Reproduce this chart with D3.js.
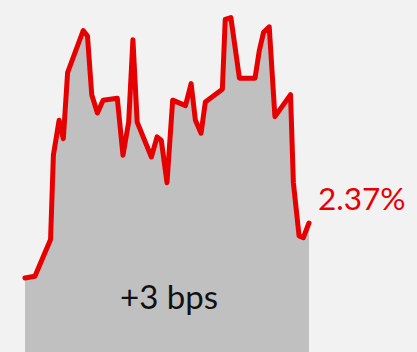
<!DOCTYPE html>
<html>
<head>
<meta charset="utf-8">
<script src="https://cdn.jsdelivr.net/npm/d3@7"></script>
<style>
  html, body { margin: 0; padding: 0; background: #f2f2f2; }
  svg { display: block; }
</style>
</head>
<body>
<svg id="chart" width="417" height="352"></svg>
<script>
// Trading-day index of each observation
const days = [0, 7, 18, 20, 24, 27, 30, 41, 44, 47, 51, 55, 65, 69, 73, 76, 79, 89, 93, 96,
              100, 104, 113, 117, 120, 124, 127, 139, 141, 145, 151, 162, 165, 168, 172, 176,
              187, 189, 193, 196, 200];
// Yield, in percent
const yields = [2.340, 2.341, 2.361, 2.407, 2.426, 2.416, 2.452, 2.475, 2.472, 2.440,
                2.430, 2.437, 2.438, 2.407, 2.425, 2.470, 2.425, 2.406, 2.417, 2.415,
                2.392, 2.437, 2.434, 2.446, 2.426, 2.419, 2.436, 2.443, 2.481, 2.482,
                2.449, 2.449, 2.464, 2.474, 2.477, 2.428, 2.440, 2.392, 2.363, 2.362,
                2.370];
const lastLabel = "2.37%";
const changeLabel = "+3 bps";

const data = days.map((d, i) => ({ day: d, value: yields[i] }));

const width = 417, height = 352;
const svg = d3.select("#chart");

const x = d3.scaleLinear().domain([0, 200]).range([25, 309]);
const y = d3.scaleLinear().domain([2.34, 2.37]).range([278, 223]);

const area = d3.area()
  .x(d => x(d.day))
  .y0(height)
  .y1(d => y(d.value));

const line = d3.line()
  .x(d => x(d.day))
  .y(d => y(d.value));

svg.append("path")
  .datum(data)
  .attr("d", area)
  .attr("fill", "#c0c0c0");

svg.append("path")
  .datum(data)
  .attr("d", line)
  .attr("fill", "none")
  .attr("stroke", "#e60000")
  .attr("stroke-width", 5)
  .attr("stroke-linejoin", "round")
  .attr("stroke-linecap", "round");

svg.append("text")
  .attr("x", 318)
  .attr("y", 210)
  .attr("font-family", "Lato, sans-serif")
  .attr("font-size", 31.5)
  .attr("fill", "#e60000")
  .text(lastLabel);

svg.append("text")
  .attr("x", (x(0) + x(200)) / 2 + 2)
  .attr("y", 309)
  .attr("text-anchor", "middle")
  .attr("font-family", "Lato, sans-serif")
  .attr("font-size", 33)
  .attr("fill", "#111")
  .text(changeLabel);
</script>
</body>
</html>
